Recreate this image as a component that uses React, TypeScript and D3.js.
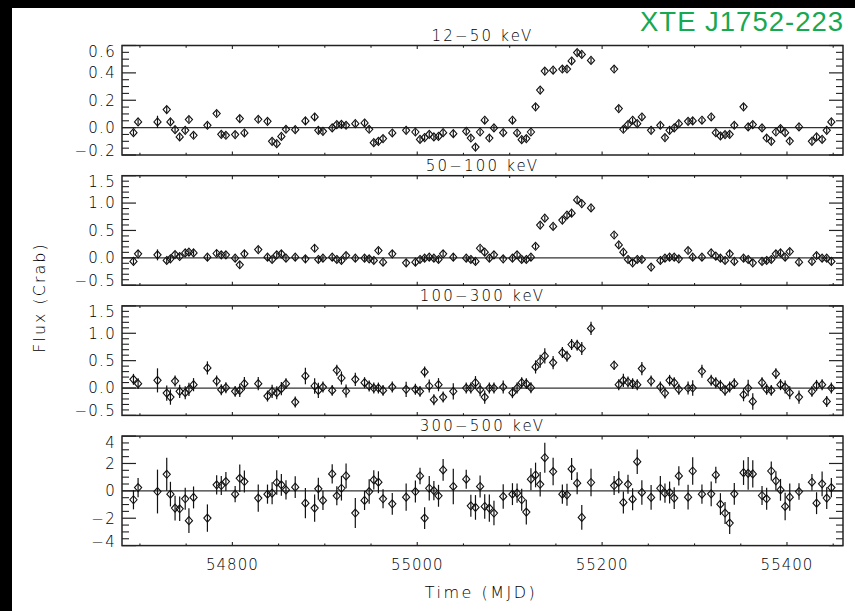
import React from "react";
import * as d3 from "d3";

const TIME = [54693, 54698, 54719, 54729, 54733, 54738, 54743, 54749, 54753, 54758, 54773, 54783, 54788, 54793, 54803, 54808, 54813, 54828, 54838, 54843, 54848, 54853, 54858, 54868, 54879, 54889, 54893, 54898, 54908, 54913, 54918, 54923, 54933, 54943, 54948, 54953, 54958, 54963, 54973, 54988, 54998, 55003, 55008, 55013, 55018, 55023, 55028, 55039, 55053, 55058, 55063, 55068, 55073, 55078, 55083, 55093, 55103, 55108, 55113, 55118, 55123, 55128, 55133, 55138, 55147, 55157, 55162, 55167, 55173, 55178, 55188, 55213, 55218, 55223, 55228, 55233, 55238, 55243, 55253, 55263, 55268, 55273, 55278, 55283, 55293, 55298, 55308, 55318, 55323, 55328, 55333, 55338, 55343, 55353, 55358, 55363, 55373, 55378, 55383, 55388, 55393, 55398, 55403, 55413, 55427, 55432, 55438, 55443, 55448];

const FLUX_12_50 = [-0.037, 0.042, 0.042, 0.132, 0.042, -0.015, -0.068, -0.02, 0.059, -0.056, 0.017, 0.103, -0.049, -0.056, -0.051, 0.066, -0.039, 0.061, 0.046, -0.1, -0.117, -0.064, -0.012, -0.015, 0.049, 0.078, -0.02, -0.027, -0.002, 0.022, 0.024, 0.017, 0.029, 0.034, -0.012, -0.11, -0.1, -0.08, -0.039, -0.02, -0.032, -0.086, -0.073, -0.049, -0.068, -0.064, -0.037, -0.044, -0.027, -0.076, -0.142, -0.032, 0.054, -0.076, -0.002, -0.037, 0.054, -0.039, -0.088, -0.08, -0.032, 0.152, 0.274, 0.413, 0.42, 0.428, 0.428, 0.487, 0.548, 0.535, 0.491, 0.428, 0.139, -0.012, 0.022, 0.054, 0.029, 0.078, -0.02, 0.017, -0.073, -0.02, -0.002, 0.029, 0.046, 0.049, 0.054, 0.078, -0.037, -0.061, -0.051, -0.049, 0.017, 0.152, 0.005, 0.022, -0.002, -0.076, -0.1, -0.032, -0.007, -0.037, -0.098, 0.005, -0.1, -0.068, -0.086, -0.02, 0.042];
const ERR_12_50 = [0.02, 0.02, 0.045, 0.025, 0.02, 0.02, 0.02, 0.02, 0.02, 0.02, 0.02, 0.02, 0.02, 0.02, 0.02, 0.025, 0.02, 0.02, 0.02, 0.02, 0.02, 0.02, 0.02, 0.02, 0.025, 0.025, 0.02, 0.02, 0.02, 0.02, 0.02, 0.02, 0.02, 0.02, 0.02, 0.02, 0.02, 0.02, 0.02, 0.02, 0.02, 0.02, 0.02, 0.02, 0.02, 0.02, 0.02, 0.025, 0.02, 0.02, 0.02, 0.02, 0.02, 0.02, 0.02, 0.02, 0.02, 0.02, 0.02, 0.02, 0.02, 0.02, 0.02, 0.02, 0.02, 0.02, 0.02, 0.02, 0.02, 0.02, 0.02, 0.02, 0.02, 0.02, 0.02, 0.02, 0.02, 0.02, 0.02, 0.02, 0.02, 0.02, 0.02, 0.02, 0.02, 0.025, 0.02, 0.02, 0.02, 0.02, 0.02, 0.02, 0.02, 0.02, 0.025, 0.02, 0.02, 0.02, 0.02, 0.02, 0.02, 0.02, 0.02, 0.02, 0.02, 0.02, 0.02, 0.02, 0.02];

const FLUX_50_100 = [-0.066, 0.073, 0.054, -0.048, -0.018, 0.06, 0.024, 0.09, 0.103, 0.09, 0.012, 0.079, 0.054, 0.054, -0.006, -0.127, 0.073, 0.151, 0.012, -0.03, 0.054, 0.073, -0.006, 0.012, -0.018, 0.175, -0.03, -0.006, 0.012, -0.03, -0.048, 0.042, -0.006, -0.006, -0.018, -0.048, 0.133, -0.079, 0.073, -0.091, -0.079, -0.03, -0.006, 0.012, -0.006, -0.03, 0.073, 0.012, -0.006, -0.03, -0.066, 0.175, 0.103, -0.006, 0.054, -0.018, -0.006, 0.054, -0.03, -0.03, 0.012, 0.211, 0.598, 0.725, 0.574, 0.689, 0.779, 0.816, 1.057, 0.991, 0.912, 0.417, 0.236, 0.103, -0.03, -0.091, -0.03, -0.03, -0.169, -0.048, -0.006, 0.012, 0.012, -0.018, 0.133, 0.012, 0.012, 0.09, 0.03, -0.006, -0.048, 0.073, -0.066, -0.006, -0.03, -0.091, -0.066, -0.048, -0.03, 0.073, 0.09, 0.012, 0.115, -0.079, -0.066, 0.042, -0.006, -0.006, -0.066];
const ERR_50_100 = [0.05, 0.05, 0.1, 0.05, 0.05, 0.05, 0.05, 0.05, 0.05, 0.05, 0.05, 0.05, 0.05, 0.05, 0.05, 0.06, 0.05, 0.05, 0.05, 0.05, 0.05, 0.05, 0.05, 0.05, 0.06, 0.06, 0.05, 0.05, 0.05, 0.05, 0.05, 0.05, 0.05, 0.05, 0.05, 0.05, 0.05, 0.05, 0.05, 0.06, 0.05, 0.05, 0.05, 0.05, 0.05, 0.05, 0.05, 0.07, 0.05, 0.05, 0.05, 0.05, 0.05, 0.05, 0.05, 0.05, 0.05, 0.05, 0.05, 0.05, 0.05, 0.05, 0.05, 0.05, 0.05, 0.05, 0.05, 0.05, 0.05, 0.05, 0.05, 0.05, 0.05, 0.05, 0.05, 0.05, 0.05, 0.05, 0.05, 0.05, 0.05, 0.05, 0.05, 0.05, 0.05, 0.05, 0.05, 0.05, 0.05, 0.05, 0.05, 0.05, 0.05, 0.05, 0.05, 0.05, 0.05, 0.05, 0.05, 0.05, 0.05, 0.05, 0.05, 0.05, 0.05, 0.05, 0.05, 0.05, 0.05];

const FLUX_100_300 = [0.159, 0.08, 0.14, -0.092, -0.165, 0.128, -0.061, -0.086, -0.024, 0.061, 0.367, 0.128, -0.031, 0.006, -0.061, -0.043, 0.08, 0.08, -0.147, -0.061, -0.086, -0.012, 0.08, -0.257, 0.22, 0.037, -0.043, 0.018, -0.043, 0.324, 0.183, -0.055, 0.159, 0.098, 0.037, 0, 0, -0.043, 0.018, -0.024, -0.024, -0.061, 0.294, 0.037, -0.214, 0.061, -0.165, -0.061, 0, 0, 0.098, -0.031, -0.165, 0, 0, 0.018, -0.086, 0, 0.098, 0.08, 0.006, 0.385, 0.489, 0.587, 0.465, 0.648, 0.581, 0.795, 0.783, 0.722, 1.089, 0.416, 0.061, 0.141, 0.11, 0.08, 0.061, 0.355, 0.128, 0.018, -0.092, 0.141, 0.098, -0.024, 0, 0, 0.306, 0.141, 0.098, 0.049, -0.043, 0.018, 0.08, -0.122, 0, -0.245, 0.098, -0.024, -0.043, 0.263, 0.061, 0.018, -0.086, -0.165, -0.061, 0.049, 0.061, -0.245, 0];
const ERR_100_300 = [0.1, 0.1, 0.22, 0.14, 0.14, 0.1, 0.12, 0.12, 0.12, 0.12, 0.12, 0.1, 0.1, 0.1, 0.1, 0.12, 0.12, 0.12, 0.1, 0.12, 0.12, 0.12, 0.1, 0.1, 0.15, 0.14, 0.14, 0.1, 0.1, 0.1, 0.12, 0.12, 0.12, 0.1, 0.1, 0.1, 0.1, 0.1, 0.1, 0.14, 0.1, 0.1, 0.1, 0.12, 0.1, 0.12, 0.1, 0.15, 0.1, 0.1, 0.12, 0.12, 0.12, 0.1, 0.1, 0.12, 0.1, 0.1, 0.1, 0.1, 0.1, 0.12, 0.12, 0.14, 0.12, 0.1, 0.1, 0.1, 0.1, 0.12, 0.12, 0.08, 0.1, 0.12, 0.1, 0.1, 0.1, 0.12, 0.1, 0.1, 0.1, 0.1, 0.1, 0.1, 0.12, 0.14, 0.12, 0.1, 0.1, 0.1, 0.1, 0.1, 0.1, 0.12, 0.15, 0.15, 0.1, 0.1, 0.1, 0.1, 0.1, 0.12, 0.12, 0.12, 0.1, 0.1, 0.1, 0.1, 0.1];

const FLUX_300_500 = [-0.65, 0.24, -0.05, 1.21, -0.24, -1.26, -1.31, -0.58, -2.18, -0.48, -1.99, 0.44, 0.39, 0.68, -0.24, 0.92, 0.68, -0.53, -0.24, -0.17, 0.61, 0.44, 0.07, 0.27, -0.9, -1.26, 0.15, -0.7, 1.24, -0.36, 0.19, 1.09, -1.62, -0.7, -0.05, 0.8, 0.63, -0.58, -0.95, -0.46, -0.05, 1.09, -1.99, 0.19, 0.02, -0.36, 1.53, 0.32, 0.85, -1.09, -1.21, 0.32, -1.14, -1.26, -1.62, -0.41, -0.24, -0.17, -0.65, -1.55, 0.85, 1.16, 0.48, 2.42, 1.41, -0.24, -0.29, 1.6, 0.56, -1.94, 0.61, 0.39, 0.63, -0.85, 0.48, -0.61, 2.13, -0.12, -0.48, 0.19, -0.17, -0.12, -0.53, 1.09, -0.46, 1.45, -0.24, -0.22, 1.16, -0.97, -1.62, -2.35, -0.22, 1.33, 1.28, 1.24, -0.34, -0.58, 1.45, 0.73, 0.07, -1.14, -0.46, -0.05, 0.63, -0.9, 0.51, -0.53, 0.24];
const ERR_300_500 = [0.7, 0.7, 1.6, 1.2, 0.9, 0.9, 0.9, 0.8, 0.9, 0.8, 1.0, 0.7, 0.7, 0.7, 0.6, 1.0, 0.8, 1.0, 0.7, 0.8, 0.9, 0.8, 0.7, 0.8, 1.1, 1.0, 0.8, 0.7, 0.7, 0.7, 0.9, 0.9, 1.1, 0.7, 0.9, 0.7, 0.8, 0.7, 0.8, 1.0, 0.8, 0.6, 0.8, 0.9, 0.7, 0.8, 0.8, 1.3, 0.7, 0.8, 0.9, 0.8, 0.9, 1.0, 0.9, 0.9, 0.8, 0.7, 0.8, 0.9, 0.8, 0.9, 0.9, 1.1, 1.0, 0.7, 0.8, 0.8, 0.8, 0.9, 1.0, 0.7, 0.8, 0.8, 0.7, 0.8, 0.9, 0.9, 0.9, 0.9, 0.7, 0.8, 0.8, 0.7, 0.9, 1.0, 0.7, 0.9, 0.6, 0.8, 0.8, 0.8, 0.8, 0.9, 1.2, 1.0, 0.7, 0.8, 0.7, 0.7, 0.8, 1.0, 1.0, 0.6, 0.6, 0.8, 0.9, 0.8, 0.7];

const BAND_LABELS = ["12\u221250 keV", "50\u2212100 keV", "100\u2212300 keV", "300\u2212500 keV"];
const Y_DOMAINS: [number, number][] = [[-0.2, 0.6], [-0.5, 1.5], [-0.5, 1.5], [-4, 4]];
const Y_MAJOR_STEP = [0.2, 0.5, 0.5, 2];
const Y_MINOR_STEP = [0.05, 0.1, 0.1, 0.5];
const Y_DECIMALS = [1, 1, 1, 0];
const X_DOMAIN: [number, number] = [54680.6, 55460.6];
const X_MAJOR_TICKS = [54800, 55000, 55200, 55400];
const X_MINOR_STEP = 50;
const TITLE = "XTE J1752-223";
const X_LABEL = "Time (MJD)";
const Y_LABEL = "Flux (Crab)";

const W = 855, H = 611;
const LEFT = 122, RIGHT = 843;
const TOP0 = 45.5, PANEL_H = 109.5, PANEL_STEP = 130.2;
const FONT = "'DejaVu Sans', sans-serif";

function range(a: number, b: number, step: number) {
  const out: number[] = [];
  const n = Math.round((b - a) / step);
  for (let i = 0; i <= n; i++) out.push(+(a + i * step).toFixed(6));
  return out;
}

function fmt(v: number, dec: number) {
  const s = Math.abs(v).toFixed(dec);
  return v < -1e-9 ? "\u2212" + s : s;
}

export default function App() {
  const x = d3.scaleLinear().domain(X_DOMAIN).range([LEFT, RIGHT]);
  const xMinor = range(54700, 55450, X_MINOR_STEP).filter((t) => !X_MAJOR_TICKS.includes(t));
  const series = [
    { v: FLUX_12_50, e: ERR_12_50 },
    { v: FLUX_50_100, e: ERR_50_100 },
    { v: FLUX_100_300, e: ERR_100_300 },
    { v: FLUX_300_500, e: ERR_300_500 },
  ];

  return (
    <svg width={W} height={H} style={{ position: "absolute", left: 0, top: 0, background: "#fff" }} fontFamily={FONT}>
      <rect x={0} y={0} width={W} height={H} fill="#fff" />
      {series.map((s, p) => {
        const top = TOP0 + p * PANEL_STEP;
        const bottom = top + PANEL_H;
        const [y0, y1] = Y_DOMAINS[p];
        const y = d3.scaleLinear().domain([y0, y1]).range([bottom, top]);
        const majors = range(y0, y1, Y_MAJOR_STEP[p]);
        const minors = range(y0, y1, Y_MINOR_STEP[p]).filter(
          (t) => !majors.some((m) => Math.abs(m - t) < 1e-6)
        );
        return (
          <g key={p}>
            <text x={(LEFT + RIGHT) / 2} y={top - 5} textAnchor="middle" fontSize={15} letterSpacing={2.2} fill="#000" fontWeight={300}>
              {BAND_LABELS[p]}
            </text>
            <line x1={LEFT} x2={RIGHT} y1={y(0)} y2={y(0)} stroke="#333" strokeWidth={1.3} />
            {majors.map((t) => (
              <g key={"M" + t}>
                <line x1={LEFT} x2={LEFT + 14} y1={y(t)} y2={y(t)} stroke="#222" strokeWidth={1.2} />
                <line x1={RIGHT} x2={RIGHT - 14} y1={y(t)} y2={y(t)} stroke="#222" strokeWidth={1.2} />
                <text
                  x={116}
                  y={Math.min(Math.max(y(t), top + 6), bottom - 4.5)}
                  dy="0.36em"
                  textAnchor="end"
                  fontSize={15}
                  letterSpacing={1.3}
                  fill="#000"
                  fontWeight={300}
                >
                  {fmt(t, Y_DECIMALS[p])}
                </text>
              </g>
            ))}
            {minors.map((t) => (
              <g key={"m" + t}>
                <line x1={LEFT} x2={LEFT + 7} y1={y(t)} y2={y(t)} stroke="#222" strokeWidth={1.1} />
                <line x1={RIGHT} x2={RIGHT - 7} y1={y(t)} y2={y(t)} stroke="#222" strokeWidth={1.1} />
              </g>
            ))}
            {X_MAJOR_TICKS.map((t) => (
              <g key={"xM" + t}>
                <line x1={x(t)} x2={x(t)} y1={bottom} y2={bottom - 3.5} stroke="#222" strokeWidth={1.1} />
                <line x1={x(t)} x2={x(t)} y1={top} y2={top + 3.5} stroke="#222" strokeWidth={1.1} />
              </g>
            ))}
            {xMinor.map((t) => (
              <g key={"xm" + t}>
                <line x1={x(t)} x2={x(t)} y1={bottom} y2={bottom - 2.2} stroke="#222" strokeWidth={1.1} />
                <line x1={x(t)} x2={x(t)} y1={top} y2={top + 2.2} stroke="#222" strokeWidth={1.1} />
              </g>
            ))}
            {TIME.map((t, i) => {
              const cx = x(t);
              const cy = y(s.v[i]);
              const e = s.e[i];
              return (
                <g key={i}>
                  <line x1={cx} x2={cx} y1={y(s.v[i] - e)} y2={y(s.v[i] + e)} stroke="#111" strokeWidth={1.2} />
                  <path
                    d={`M${cx},${cy - 4}L${cx + 3.6},${cy}L${cx},${cy + 4}L${cx - 3.6},${cy}Z`}
                    fill="none"
                    stroke="#111"
                    strokeWidth={1.1}
                  />
                </g>
              );
            })}
            <rect x={LEFT} y={top} width={RIGHT - LEFT} height={PANEL_H} fill="none" stroke="#222" strokeWidth={1.5} />
            {p === 3 &&
              X_MAJOR_TICKS.map((t) => (
                <text key={"xl" + t} x={x(t)} y={570} textAnchor="middle" fontSize={15} letterSpacing={1.0} fill="#000" fontWeight={300}>
                  {t}
                </text>
              ))}
          </g>
        );
      })}
      <text x={481} y={598} textAnchor="middle" fontSize={16} letterSpacing={2.5} fill="#000" fontWeight={300}>
        {X_LABEL}
      </text>
      <text
        transform="translate(45,297.5) rotate(-90)"
        textAnchor="middle"
        fontSize={16}
        letterSpacing={2}
        fill="#000"
        fontWeight={300}
      >
        {Y_LABEL}
      </text>
      <text x={843} y={31} textAnchor="end" fontSize={27.5} fill="#17a852" fontFamily="'Liberation Sans', Arial, sans-serif" textLength={203} lengthAdjust="spacing">
        {TITLE}
      </text>
      <rect x={0} y={0} width={12} height={H} fill="#000" />
      <rect x={0} y={0} width={W} height={8} fill="#000" />
    </svg>
  );
}
